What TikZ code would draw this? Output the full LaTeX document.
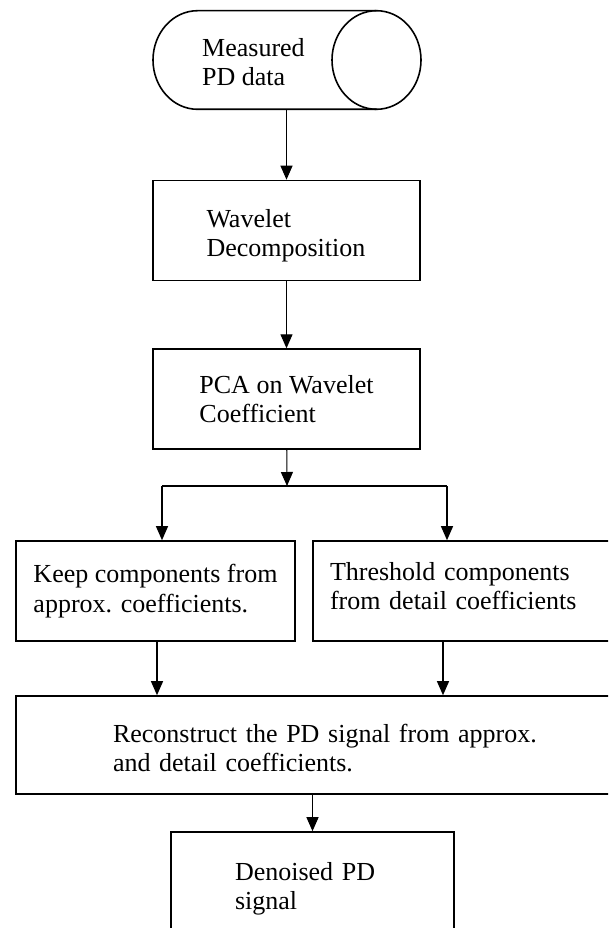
\documentclass[tikz,border=0pt]{standalone}
\usepackage{fontspec}
\setmainfont{Liberation Serif}
\usetikzlibrary{shapes,arrows.meta,positioning}
\tikzstyle{block} = [rectangle, draw, line width=1.6pt, minimum height=100pt, align=left, inner sep=0pt]
\tikzstyle{link} = [line width=1.1pt, -{Triangle[width=12pt,length=14pt]}]
\tikzset{pushdown/.style={execute at begin node={\rule{0pt}{#1}}},
         pushup/.style={execute at end node={\rule[-#1]{0pt}{#1}}}}

\begin{document}
\begin{tikzpicture}[x=1pt, y=-1pt, font=\fontsize{26}{29.5}\selectfont]
\useasboundingbox (0,0) rectangle (608,928);
\clip (0,0) rectangle (608,928);
% the data source, drawn as a lying cylinder
\node[minimum width=268pt, minimum height=98.6pt, inner sep=0pt, outer sep=0pt] (data) at (287,60) {};
\draw[line width=1.6pt] ([xshift=44.5pt]data.north west) -- ([xshift=-44.5pt]data.north east)
  arc[start angle=90, end angle=-90, x radius=44.5pt, y radius=49.3pt] -- ([xshift=44.5pt]data.south west)
  arc[start angle=270, end angle=90, x radius=44.5pt, y radius=49.3pt] -- cycle;
\draw[line width=1.6pt] ([xshift=-44.5pt]data.north east)
  arc[start angle=90, end angle=270, x radius=44.5pt, y radius=49.3pt];
\node[anchor=west, align=left, inner sep=0pt] (data-txt) at (202,62) {Measured\\PD data};
% main column
\node[block, pushdown=29pt, minimum width=267pt, text width=160pt] (wav) at (286.5,230.5) {Wavelet\\Decomposition};
\node[block, minimum width=267pt] (pca) [below=67pt of wav] {PCA on Wavelet\\Coefficient};
% the two branches
\node[block, minimum width=279pt] (keep) at (155.5,591) {Keep components from\\approx. coefficients.};
\node[block, pushup=10pt, minimum width=312pt, text width=278pt] (thr) at (469,591) {Threshold components\\from detail coefficients};
\node[block, pushdown=24pt, minimum width=634pt, minimum height=98pt, text width=440pt] (rec) at (333,745)
  {Reconstruct the PD signal from approx.\\and detail coefficients.};
\node[block, pushdown=32pt, minimum width=283pt, text width=155pt] (den) at (312.5,882) {Denoised PD\\signal};

\coordinate (split) at (287,486);
\coordinate (split-l) at (162,486);
\coordinate (split-r) at (447,486);

\draw[link] (wav.north |- data.south) -- (wav.north);
\draw[link] (wav) -- (pca);
\draw[link] (pca) -- (split);
\draw[line width=1.1pt] (split-l) -- (split-r);
\draw[link] (split-l) -- (split-l |- keep.north);
\draw[link] (split-r) -- (split-r |- thr.north);
\draw[link] ([xshift=1.5pt]keep.south) -- ([xshift=1.5pt]keep.south |- rec.north);
\draw[link] ([xshift=-26pt]thr.south) -- ([xshift=-26pt]thr.south |- rec.north);
\draw[link] (den.north |- rec.south) -- (den.north);
\end{tikzpicture}
\end{document}
